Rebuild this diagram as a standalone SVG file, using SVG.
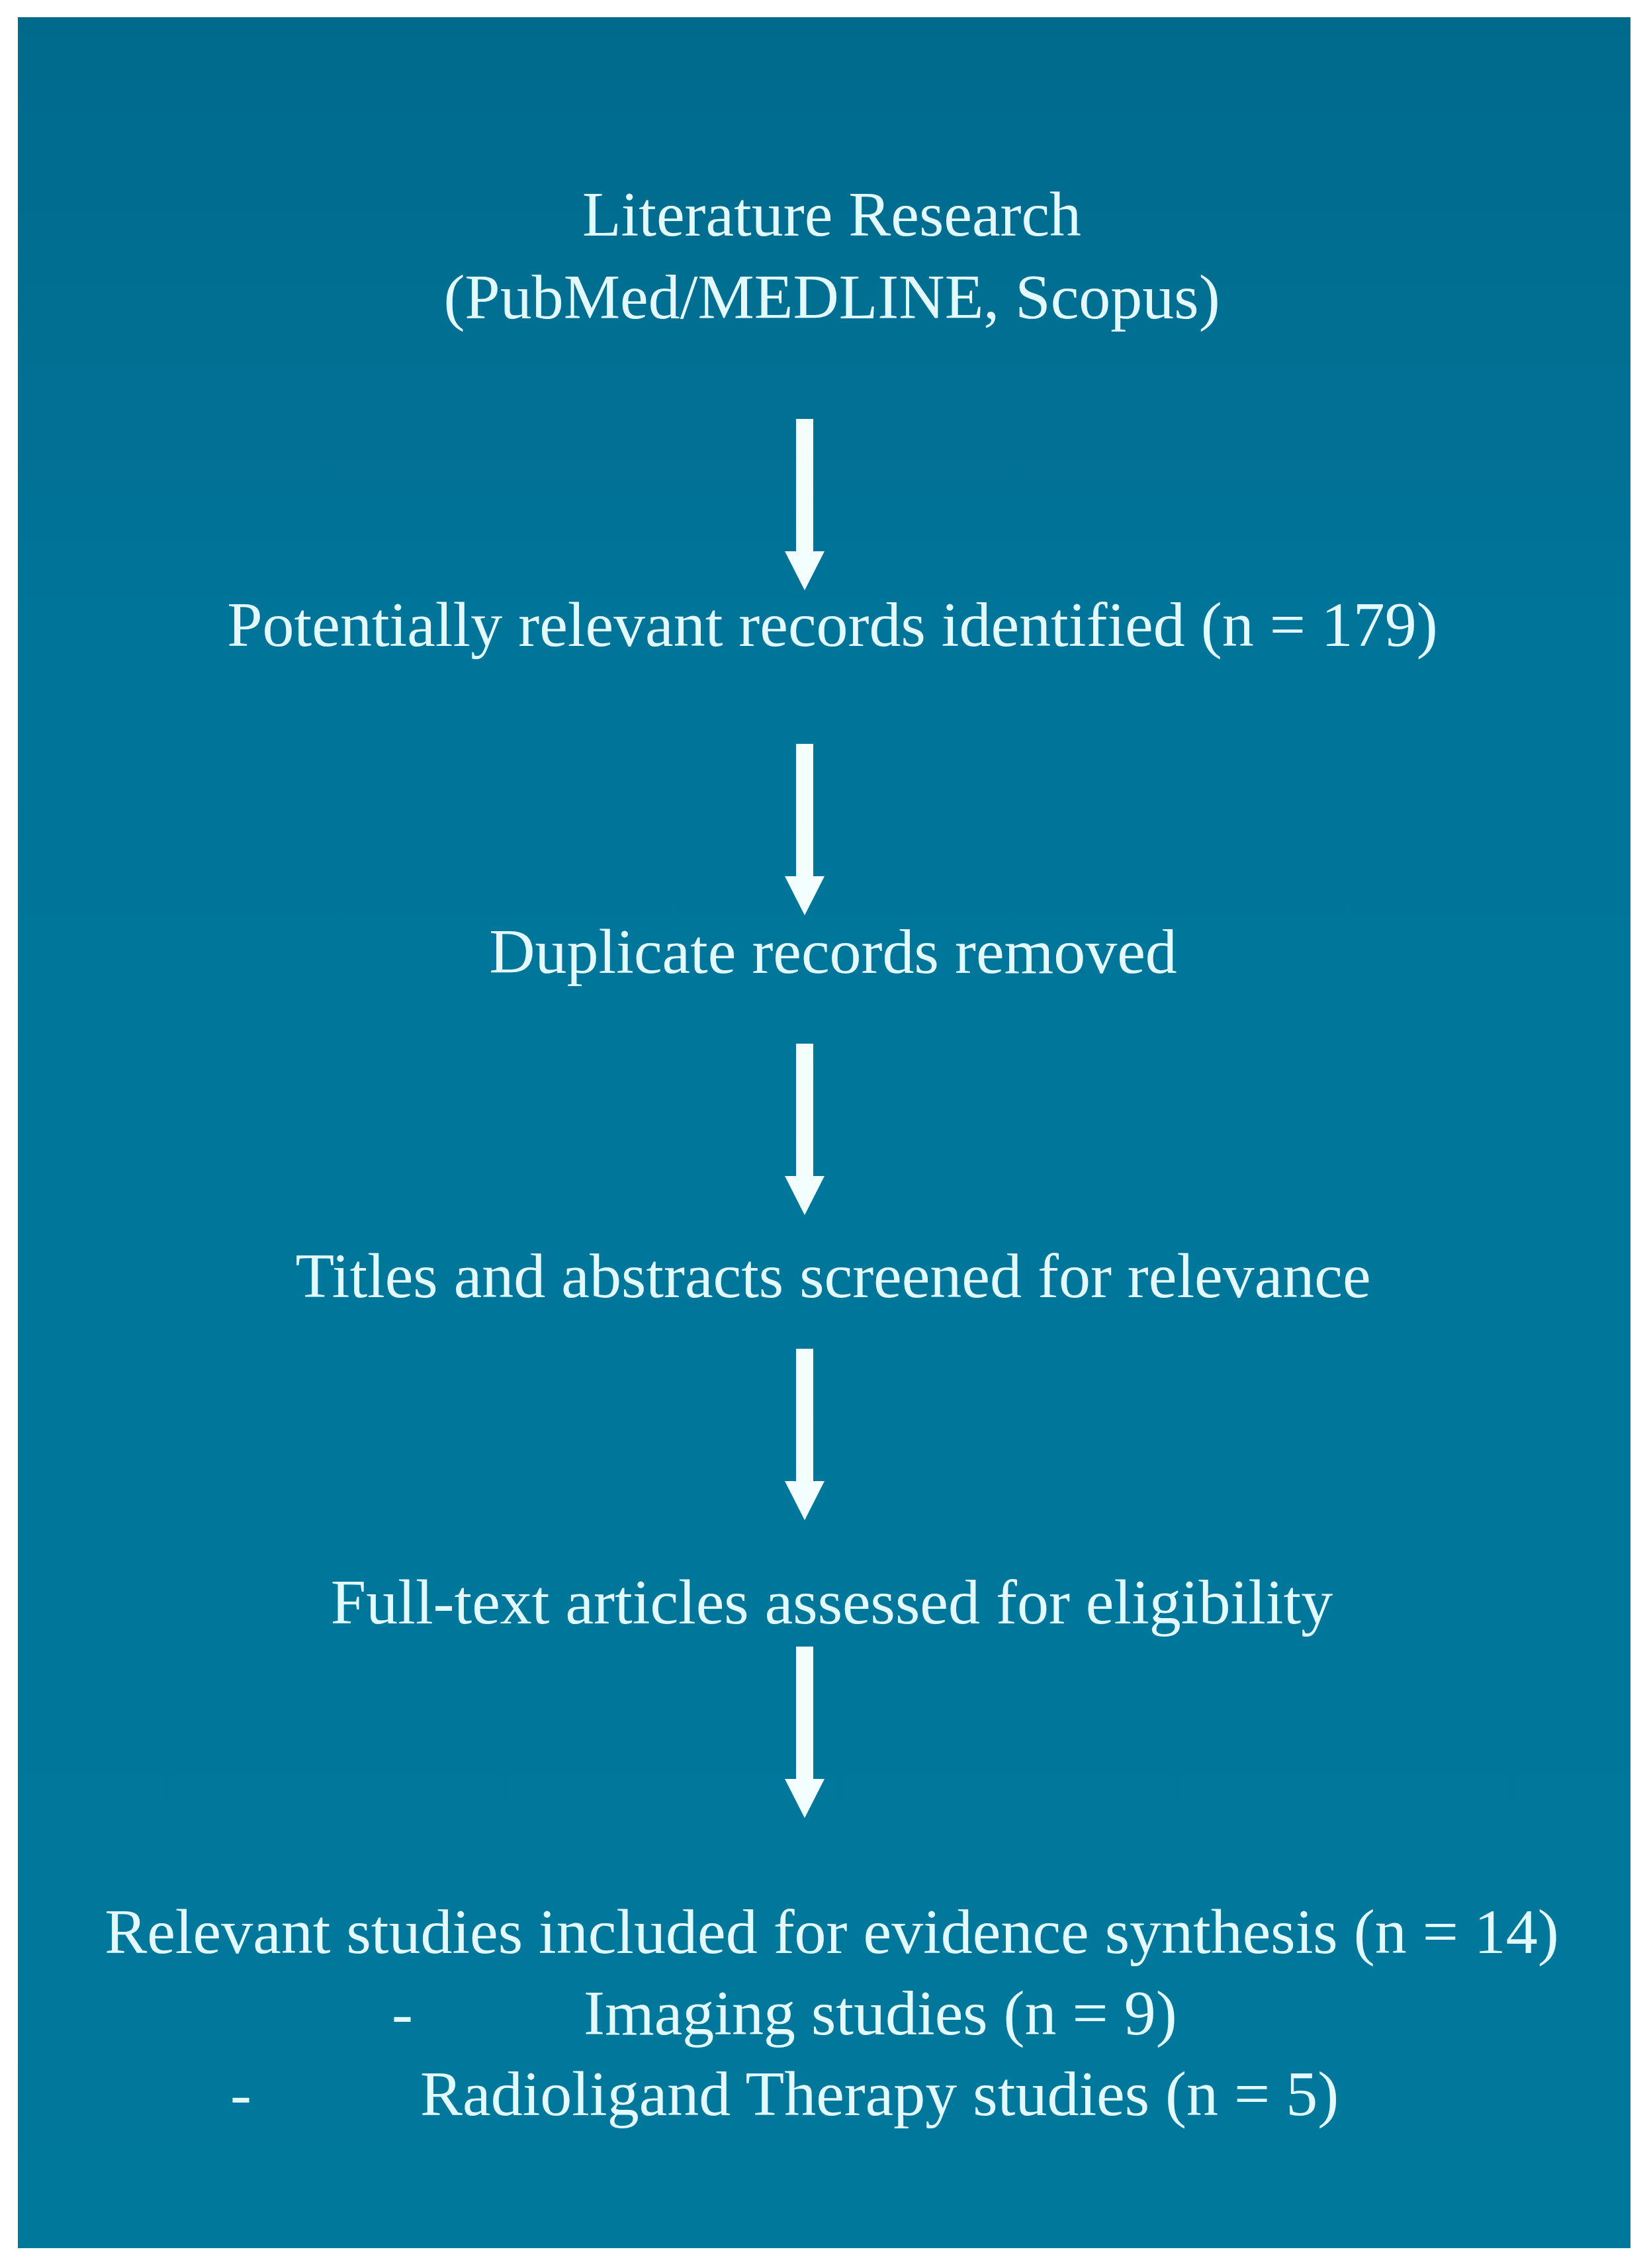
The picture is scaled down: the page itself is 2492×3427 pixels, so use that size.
<svg xmlns="http://www.w3.org/2000/svg" width="2492" height="3427" viewBox="0 0 2492 3427">
<defs>
<linearGradient id="bg" x1="0" y1="0" x2="0" y2="1">
<stop offset="0" stop-color="#006a8c"/>
<stop offset="0.3" stop-color="#00759a"/>
<stop offset="1" stop-color="#00789b"/>
</linearGradient>
<path id="arrow" d="M-13,0 H13 V200 H30 L0,259 L-30,200 H-13 Z"/>
</defs>
<style>
.t{font-family:"Liberation Serif","Times New Roman",serif;font-size:96px;fill:#e2f9ff;}
.m{text-anchor:middle;}
.a{fill:#f2feff;}
</style>
<rect x="0" y="0" width="2492" height="3427" fill="#ffffff"/>
<rect x="27" y="26" width="2437" height="3371" fill="url(#bg)"/>
<g id="connectors">
<use href="#arrow" class="a" x="1216" y="633"/>
<use href="#arrow" class="a" x="1216" y="1124"/>
<use href="#arrow" class="a" x="1216" y="1577"/>
<use href="#arrow" class="a" x="1216" y="2038"/>
<use href="#arrow" class="a" x="1216" y="2488"/>
</g>
<g id="node-search">
<text class="t m" x="1257" y="356">Literature Research</text>
<text class="t m" x="1257" y="481">(PubMed/MEDLINE, Scopus)</text>
</g>
<g id="node-identified">
<text class="t m" x="1258" y="976">Potentially relevant records identified (n = 179)</text>
</g>
<g id="node-duplicates">
<text class="t m" x="1259" y="1470">Duplicate records removed</text>
</g>
<g id="node-screened">
<text class="t m" x="1259" y="1960">Titles and abstracts screened for relevance</text>
</g>
<g id="node-fulltext">
<text class="t m" x="1257" y="2453">Full-text articles assessed for eligibility</text>
</g>
<g id="node-included">
<text class="t m" x="1257" y="2951">Relevant studies included for evidence synthesis (n = 14)</text>
<text class="t" x="592" y="3074">-</text>
<text class="t" x="882" y="3074">Imaging studies (n = 9)</text>
<text class="t" x="348" y="3196">-</text>
<text class="t" x="635" y="3196">Radioligand Therapy studies (n = 5)</text>
</g>
</svg>
